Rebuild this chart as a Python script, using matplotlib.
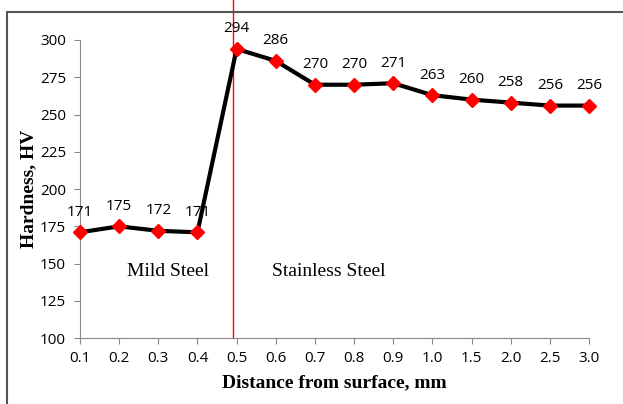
import numpy as np
import matplotlib.pyplot as plt
from matplotlib.patches import Rectangle

# data
distance_labels = ['0.1', '0.2', '0.3', '0.4', '0.5', '0.6', '0.7', '0.8', '0.9',
                   '1.0', '1.5', '2.0', '2.5', '3.0']
hardness = [171, 175, 172, 171, 294, 286, 270, 270, 271, 263, 260, 258, 256, 256]
y_ticks = [100, 125, 150, 175, 200, 225, 250, 275, 300]
interface_pos = 3.9

fig = plt.figure(figsize=(6.23, 4.04), dpi=100)
ax = fig.add_axes([0.1284, 0.163, 0.8170, 0.738])

x = np.arange(len(hardness))
ax.plot(x, hardness, color='black', lw=3, marker='D', ms=7,
        mfc='red', mec='red', zorder=3, clip_on=False)

for xi, v in zip(x, hardness):
    ax.annotate(str(v), (xi, v), xytext=(0, 9), textcoords='offset points',
                ha='center', va='bottom', fontsize=11, family='Open Sans')

ax.set_xlim(0, len(hardness) - 1)
ax.set_ylim(100, 300)
ax.set_xticks(x)
ax.set_xticklabels(distance_labels)
ax.set_yticks(y_ticks)

for s in ['top', 'right']:
    ax.spines[s].set_visible(False)
for s in ['left', 'bottom']:
    ax.spines[s].set_color('#888888')
ax.tick_params(axis='both', colors='#888888', labelcolor='black', labelsize=11,
               length=4, direction='out')
ax.tick_params(axis='y', pad=6)
ax.tick_params(axis='x', pad=5)
for lab in ax.get_xticklabels() + ax.get_yticklabels():
    lab.set_family('Open Sans')

# interface line, running up to the frame
ax.plot([interface_pos, interface_pos], [100, 328], color='red', lw=1,
        clip_on=False, zorder=2)

ax.text(2.25, 145, 'Mild Steel', ha='center', va='center',
        fontsize=14, family='Liberation Serif')
ax.text(6.36, 145, 'Stainless Steel', ha='center', va='center',
        fontsize=14, family='Liberation Serif')

ax.set_xlabel('Distance from surface, mm', family='Liberation Serif',
              fontweight='bold', fontsize=14, labelpad=6)
ax.set_ylabel('Hardness, HV', family='Liberation Serif',
              fontweight='bold', fontsize=14, labelpad=2)

# outer frame
fig.patches.append(Rectangle((7 / 623, -0.05), 1.2, 1 - 12 / 404 + 0.05,
                             transform=fig.transFigure, fill=False,
                             edgecolor='#555555', lw=1.5))

fig.savefig('out.png', dpi=100)
